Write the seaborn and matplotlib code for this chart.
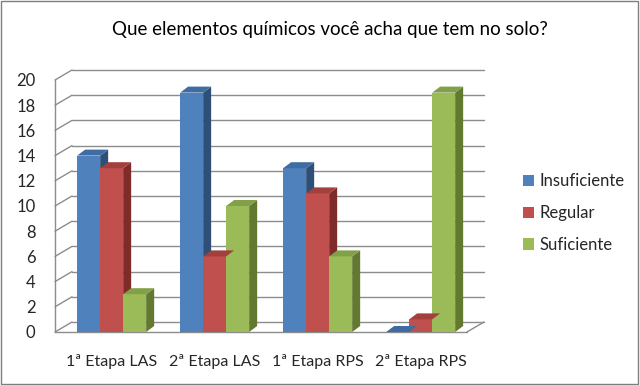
import numpy as np
import pandas as pd
import seaborn as sns
import matplotlib.pyplot as plt
from matplotlib.patches import Polygon, Rectangle

# data
etapas = ["1ª Etapa LAS", "2ª Etapa LAS", "1ª Etapa RPS", "2ª Etapa RPS"]
niveis = ["Insuficiente", "Regular", "Suficiente"]
insuficiente = [14, 19, 13, 0]
regular = [13, 6, 11, 1]
suficiente = [3, 10, 6, 19]
yticks = list(range(0, 21, 2))

cores = ["#4F81BD", "#C0504D", "#9BBB59"]
cores_topo = ["#3F6CA3", "#A33F3C", "#82A047"]
cores_lado = ["#2E5077", "#7F2B29", "#62792F"]

df = pd.DataFrame({
    "etapa": etapas * 3,
    "nivel": np.repeat(niveis, len(etapas)),
    "valor": insuficiente + regular + suficiente,
})

sns.set_theme(style="white")
plt.rcParams["font.family"] = ["Lato", "DejaVu Sans"]

W, H = 640, 385
fig = plt.figure(figsize=(W / 100, H / 100), dpi=100)
ax = fig.add_axes([55 / W, 1 - 332 / H, 412 / W, 252 / H])

sns.barplot(data=df, x="etapa", y="valor", hue="nivel", palette=cores,
            width=0.67, saturation=1, ax=ax, legend=False, zorder=3,
            linewidth=0, edgecolor="none")

x0, x1 = -0.55, 3.45
ax.set_xlim(x0, x1)
ax.set_ylim(0, 20)
ax.set_yticks(yticks)
ax.set_xlabel("")
ax.set_ylabel("")
for s in ax.spines.values():
    s.set_visible(False)
ax.tick_params(axis="y", length=0, pad=14, labelsize=12)
ax.tick_params(axis="x", length=0, pad=16, labelsize=11.5)

# pixel -> data conversion for the fake depth
px_x = (x1 - x0) / 412.0
px_y = 20 / 252.0
wall_dx, wall_dy = 17 * px_x, 10 * px_y
bar_dx, bar_dy = 8 * px_x, 6 * px_y

grid = "#8C8C8C"
for v in yticks:
    ax.plot([x0 + wall_dx, x1 + wall_dx], [v + wall_dy] * 2, color=grid, lw=1,
            clip_on=False, zorder=1)
    ax.plot([x0, x0 + wall_dx], [v, v + wall_dy], color=grid, lw=1,
            clip_on=False, zorder=1)
ax.plot([x0, x0], [0, 20], color=grid, lw=1, clip_on=False, zorder=1)
ax.plot([x0, x1], [0, 0], color=grid, lw=1, clip_on=False, zorder=2)
ax.plot([x1, x1 + wall_dx], [0, wall_dy], color=grid, lw=1, clip_on=False, zorder=2)

# side and top faces of the bars
for i, cont in enumerate(ax.containers):
    for bar in cont:
        bx, bw, bh = bar.get_x(), bar.get_width(), bar.get_height()
        lado = Polygon([(bx + bw, 0), (bx + bw + bar_dx, bar_dy),
                        (bx + bw + bar_dx, bh + bar_dy), (bx + bw, bh)],
                       closed=True, fc=cores_lado[i], ec="none", zorder=2.9,
                       clip_on=False)
        topo = Polygon([(bx, bh), (bx + bw, bh), (bx + bw + bar_dx, bh + bar_dy),
                        (bx + bar_dx, bh + bar_dy)],
                       closed=True, fc=cores_topo[i], ec="none", zorder=3.1,
                       clip_on=False)
        ax.add_patch(lado)
        ax.add_patch(topo)

handles = [Rectangle((0, 0), 1, 1, fc=c, ec="none") for c in cores]
fig.legend(handles, niveis, loc="center left",
           bbox_to_anchor=(508 / W, 1 - 213 / H), frameon=False, fontsize=12,
           handlelength=0.65, handleheight=0.65, handletextpad=0.35,
           labelspacing=0.95)

fig.text(330 / W, 1 - 30 / H, "Que elementos químicos você acha que tem no solo?",
         ha="center", va="center", fontsize=13.5, color="black")

fig.patches.append(Rectangle((0.002, 0.003), 0.995, 0.994, transform=fig.transFigure,
                             fill=False, ec="#7F7F7F", lw=1))

fig.savefig("out.png", dpi=100)
